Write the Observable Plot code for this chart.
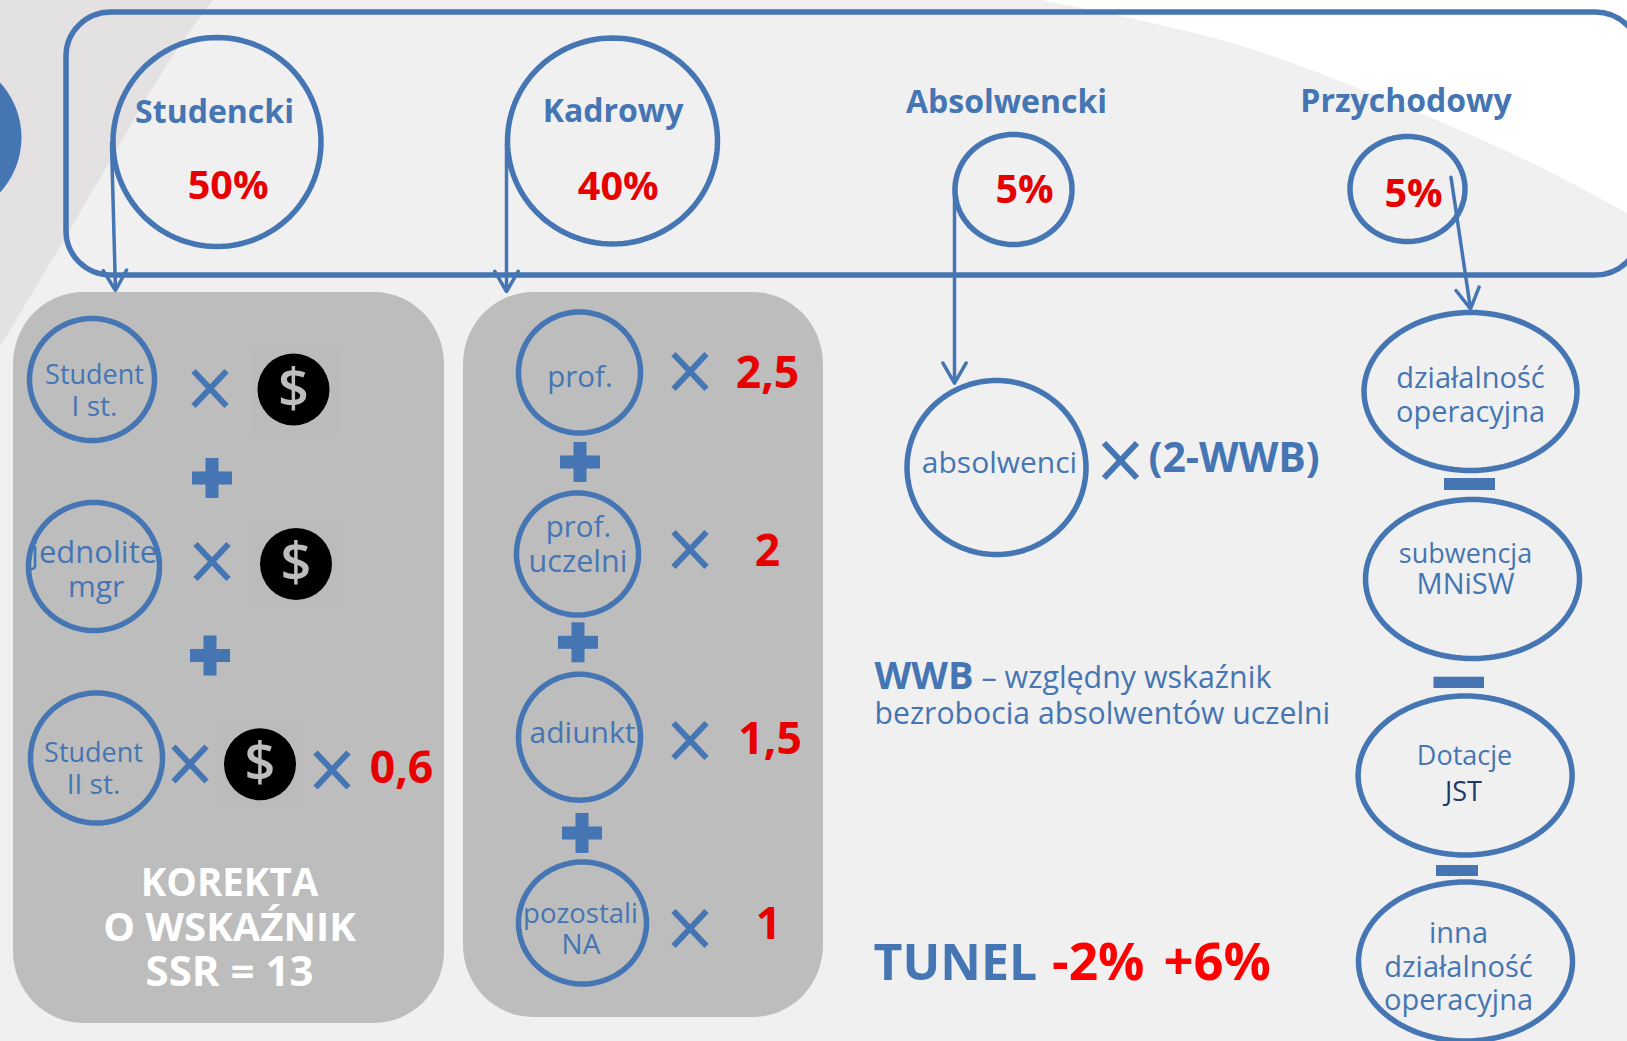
<!DOCTYPE html>
<html lang="pl">
<head>
<meta charset="utf-8">
<title>Algorytm</title>
<script src="https://cdn.jsdelivr.net/npm/d3@7"></script>
<script src="https://cdn.jsdelivr.net/npm/@observablehq/plot@0.6"></script>
<style>
  html, body { margin: 0; padding: 0; background: #f0f0f0; overflow: hidden; }
  svg { display: block; }
</style>
</head>
<body>
<div id="chart"></div>
<script>
// ---- content ----
const componentNames = ["Studencki", "Kadrowy", "Absolwencki", "Przychodowy"];
const componentShares = ["50%", "40%", "5%", "5%"];
const studentLabels = ["Student", "I st.", "jednolite", "mgr", "Student", "II st."];
const staffLabels = ["prof.", "prof.", "uczelni", "adiunkt", "pozostali", "NA"];
const staffWeights = ["2,5", "2", "1,5", "1"];
const secondCycleWeight = ["0,6"];
const correctionLines = ["KOREKTA", "O WSKAŹNIK", "SSR = 13"];
const incomeLabels = ["działalność", "operacyjna", "subwencja", "MNiSW", "Dotacje", "inna", "działalność", "operacyjna"];

// ---- layout (diagram units, one unit per reference pixel) ----
const W = 1627, H = 1041;
const BLUE = "#4575b3", RED = "#e60000", FONT = "Open Sans";

const wedgeY = [0, 60, 147, 233, 347];
const wedgeX = [213, 170, 118, 68, 0];
const whiteX = [1041, 1232, 1412, 1540, 1627];
const whiteY = [0, 43, 110, 167, 213];

const panelX1 = [13, 463], panelX2 = [444, 823], panelY1 = [292, 292], panelY2 = [1023, 1017];

const ellipseCx = [216.5, 612, 1013, 1407, 91.5, 93.5, 96, 579, 577, 579, 582, 996, 1470, 1472, 1464.6, 1465];
const ellipseCy = [141.5, 140.5, 189, 188.5, 379, 566, 757.5, 372, 553.5, 736.7, 922.5, 467, 391, 578.5, 775, 961];
const ellipseRx = [104, 105, 58.5, 57.5, 62.5, 65.5, 66, 61, 61, 61, 64, 89.5, 106.5, 107, 107, 107];
const ellipseRy = [104.5, 103, 55, 52.5, 61, 64, 65, 60.5, 61, 63, 61, 87, 79, 79.5, 79.5, 79.5];

const arrowX1 = [111, 506, 954, 1450.5], arrowY1 = [143, 143, 187, 176.7];
const arrowX2 = [115, 506, 954, 1470], arrowY2 = [290, 291, 382.7, 308.3];

const timesX = [209.5, 211.5, 189.5, 331.5, 689.5, 689.5, 689.5, 689.5, 1120];
const timesY = [388, 561, 763.5, 769.5, 371, 549, 740, 928, 460];

const plusX = [212, 210, 580, 578, 582];
const plusY = [478, 655.5, 462, 642.3, 833];

const minusX1 = [1444, 1433.5, 1436], minusX2 = [1495, 1484, 1478];
const minusY1 = [478, 676.7, 865], minusY2 = [490, 688, 876];

const coinX = [293, 295.5, 259.5];
const coinY = [389, 563.5, 763.7];

// ---- builders ----
const idx = a => a.map((_, i) => i);
const ellipsePoints = idx(ellipseCx).flatMap(e =>
  d3.range(0, 121).map(k => ({
    e,
    x: ellipseCx[e] + ellipseRx[e] * Math.cos(k / 120 * 2 * Math.PI),
    y: ellipseCy[e] + ellipseRy[e] * Math.sin(k / 120 * 2 * Math.PI)
  })));

function label(texts, xs, ys, opts) {
  return Plot.text(idx(texts), {
    x: i => xs[i], y: i => ys[i], text: i => texts[i],
    lineAnchor: "bottom", fontFamily: FONT, fill: BLUE, ...opts
  });
}
const sized = sizes => (i => sizes[i]);
const bold = { fontWeight: 700 };
const timesLink = (sx, sy) => Plot.link(idx(timesX), {
  x1: i => timesX[i] - sx, y1: i => timesY[i] - sy,
  x2: i => timesX[i] + sx, y2: i => timesY[i] + sy,
  stroke: BLUE, strokeWidth: 6
});

const chart = Plot.plot({
  width: W, height: H,
  margin: 0, marginTop: 0, marginRight: 0, marginBottom: 0, marginLeft: 0,
  x: { domain: [0, W], range: [0, W], axis: null },
  y: { domain: [0, H], range: [0, H], axis: null },
  style: { background: "#f0f0f0" },
  marks: [
    // backdrop shapes
    Plot.areaX(idx(wedgeY), { y: i => wedgeY[i], x1: 0, x2: i => wedgeX[i], fill: "#e3e1e2", curve: "catmull-rom" }),
    Plot.areaY(idx(whiteX), { x: i => whiteX[i], y1: 0, y2: i => whiteY[i], fill: "#ffffff", curve: "catmull-rom" }),
    Plot.dot([0], { x: () => -60, y: () => 137, r: 81, fill: BLUE }),

    // panels
    Plot.rect(idx(panelX1), {
      x1: i => panelX1[i], x2: i => panelX2[i], y1: i => panelY1[i], y2: i => panelY2[i],
      fill: "#bdbdbd", rx: 70, ry: 72
    }),
    // top frame
    Plot.rect([0], { x1: () => 66, x2: () => 1640, y1: () => 12, y2: () => 275, fill: "none", stroke: BLUE, strokeWidth: 5.5, rx: 45, ry: 44 }),

    // money tiles and coins
    Plot.rect(idx(coinX), {
      x1: i => coinX[i] - 44, x2: i => coinX[i] + 44, y1: i => coinY[i] - 44, y2: i => coinY[i] + 44,
      fill: "#bbbbbb"
    }),
    Plot.dot(idx(coinX), { x: i => coinX[i], y: i => coinY[i], r: 36, fill: "#000000" }),
    Plot.text(idx(coinX), {
      x: i => coinX[i], y: i => coinY[i], text: () => "$",
      fontFamily: FONT, fontWeight: 600, fontSize: 54, fill: "#bdbdbd", lineAnchor: "middle"
    }),

    // circles
    Plot.line(ellipsePoints, { x: "x", y: "y", z: "e", stroke: BLUE, strokeWidth: 5.5, curve: "linear" }),

    // arrows
    Plot.arrow(idx(arrowX1), {
      x1: i => arrowX1[i], y1: i => arrowY1[i], x2: i => arrowX2[i], y2: i => arrowY2[i],
      stroke: BLUE, strokeWidth: 3.5, headLength: 10, headAngle: 60
    }),

    // operators
    timesLink(16.5, 17.5),
    timesLink(16.5, -17.5),
    Plot.rect(idx(plusX), { x1: i => plusX[i] - 6.5, x2: i => plusX[i] + 6.5, y1: i => plusY[i] - 20, y2: i => plusY[i] + 20, fill: BLUE }),
    Plot.rect(idx(plusX), { x1: i => plusX[i] - 20, x2: i => plusX[i] + 20, y1: i => plusY[i] - 6.5, y2: i => plusY[i] + 6.5, fill: BLUE }),
    Plot.rect(idx(minusX1), { x1: i => minusX1[i], x2: i => minusX2[i], y1: i => minusY1[i], y2: i => minusY2[i], fill: BLUE }),

    // component headings and shares
    label(componentNames, [214, 612.5, 1006, 1405.5], [122.7, 121.7, 112.7, 111.7], { ...bold, fontSize: 32 }),
    label(componentShares, [227.6, 617.7, 1024, 1413], [198.5, 199.5, 202.2, 206.2], { ...bold, fontSize: 39.5, fill: RED }),

    // node labels
    label(studentLabels, [94, 94, 93.6, 95.7, 93, 93], [383.5, 415.5, 562.5, 596.5, 761, 793.5], { fontSize: sized([27, 28, 31, 30, 27, 28]) }),
    label(staffLabels, [579.5, 578, 577.5, 582, 580, 580.5], [386, 536, 571, 742, 922, 953], { fontSize: sized([29.5, 29.5, 30.5, 30, 27.5, 28]) }),
    label(["absolwenci"], [999], [472], { fontSize: 30 }),
    label(incomeLabels, [1470, 1470, 1465, 1465, 1464, 1458, 1458, 1458], [387.5, 421.5, 562.5, 593.5, 764.5, 942, 976, 1009], { fontSize: sized([29, 29, 27, 29, 27, 29, 29, 29]) }),
    label(["JST"], [1463], [800.5], { fontSize: 27, fill: "#1f3864" }),

    // weights
    label(staffWeights, [767, 767, 769.6, 768], [387, 565, 753, 938.5], { ...bold, fontSize: 44.5, fill: RED }),
    label(secondCycleWeight, [401], [782], { ...bold, fontSize: 44.5, fill: RED }),
    label(correctionLines, [229, 229, 229], [895, 940, 985], { ...bold, fontSize: sized([38.5, 40, 42]), fill: "#ffffff" }),

    // right-hand notes
    label(["(2-WWB)"], [1148], [471], { ...bold, fontSize: 41, textAnchor: "start" }),
    label(["WWB"], [874], [688], { ...bold, fontSize: 38, textAnchor: "start" }),
    label(["– względny wskaźnik"], [981], [687.5], { fontSize: 30.4, textAnchor: "start" }),
    label(["bezrobocia absolwentów uczelni"], [874], [723.5], { fontSize: 30.2, textAnchor: "start" }),
    label(["TUNEL"], [873], [979], { ...bold, fontSize: 50, textAnchor: "start" }),
    label(["-2%"], [1051.6], [979], { ...bold, fontSize: 51.5, fill: "#ff0000", textAnchor: "start" }),
    label(["+6%"], [1163], [979], { ...bold, fontSize: 52.5, fill: "#ff0000", textAnchor: "start" })
  ]
});
document.getElementById("chart").appendChild(chart);
</script>
</body>
</html>
